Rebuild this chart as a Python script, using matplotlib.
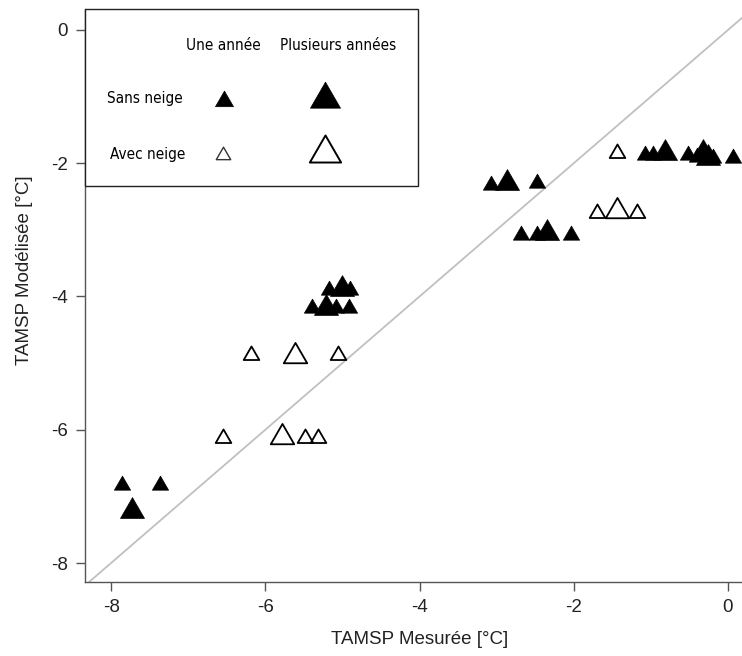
import numpy as np
import matplotlib
matplotlib.use("Agg")
import matplotlib.pyplot as plt
from matplotlib.path import Path
from matplotlib.patches import Rectangle
from matplotlib.lines import Line2D

plt.rcParams['font.family'] = ['Liberation Sans', 'DejaVu Sans']
plt.rcParams['axes.unicode_minus'] = False

# sans neige, une année (petits triangles pleins)
sans_une_x = [-7.86, -7.36, -5.18, -4.90, -5.39, -5.08, -4.91, -3.07, -2.48,
              -2.68, -2.47, -2.03, -1.08, -0.97, -0.52, -0.40, -0.19, 0.06]
sans_une_y = [-6.83, -6.83, -3.90, -3.90, -4.17, -4.17, -4.17, -2.33, -2.30,
              -3.07, -3.07, -3.07, -1.88, -1.88, -1.88, -1.90, -1.92, -1.92]
# sans neige, plusieurs années (grands triangles pleins)
sans_plus_x = [-7.73, -5.01, -5.21, -2.86, -2.35, -0.82, -0.32, -0.26]
sans_plus_y = [-7.22, -3.88, -4.17, -2.30, -3.05, -1.85, -1.85, -1.92]
# avec neige, une année (petits triangles vides)
avec_une_x = [-6.18, -5.06, -6.55, -5.48, -5.32, -1.44, -1.70, -1.18]
avec_une_y = [-4.88, -4.88, -6.13, -6.13, -6.13, -1.85, -2.75, -2.75]
# avec neige, plusieurs années (grands triangles vides)
avec_plus_x = [-5.62, -5.78, -1.44]
avec_plus_y = [-4.90, -6.11, -2.72]

W, H = 742, 656
fig = plt.figure(figsize=(W / 100, H / 100), dpi=100)

def fx(px):
    return px / W

def fy(py):
    return 1 - py / H

# equilateral triangle like R's pch 2 / 17
tri = Path([(-1, -0.577), (1, -0.577), (0, 1.155), (-1, -0.577)],
           [Path.MOVETO, Path.LINETO, Path.LINETO, Path.CLOSEPOLY])

ax = fig.add_axes([fx(85), fy(582), fx(742) - fx(85), fy(9) - fy(582)])
ax.set_xlim(-8.338, 0.182)
ax.set_ylim(-8.285, 0.315)

ax.plot([-9, 1], [-9, 1], color='#c0c0c0', lw=1.3, zorder=1)

ax.plot(sans_une_x, sans_une_y, ls='none', marker=tri, ms=13.5,
        mfc='black', mec='black', mew=0.5, zorder=3)
ax.plot(sans_plus_x, sans_plus_y, ls='none', marker=tri, ms=20,
        mfc='black', mec='black', mew=0.5, zorder=3)
ax.plot(avec_une_x, avec_une_y, ls='none', marker=tri, ms=13,
        mfc='none', mec='black', mew=1.3, zorder=3)
ax.plot(avec_plus_x, avec_plus_y, ls='none', marker=tri, ms=19.5,
        mfc='none', mec='black', mew=1.3, zorder=3)

for s in ['top', 'right']:
    ax.spines[s].set_visible(False)
for s in ['left', 'bottom']:
    ax.spines[s].set_color('#555555')
    ax.spines[s].set_linewidth(1.0)

ax.set_xticks([-8, -6, -4, -2, 0])
ax.set_yticks([-8, -6, -4, -2, 0])
ax.tick_params(length=6.5, width=1.0, color='#555555', labelsize=13.5,
               labelcolor='#222222', pad=6)

ax.set_xlabel("TAMSP Mesurée [°C]", fontsize=13.5, color='#222222')
ax.set_ylabel("TAMSP Modélisée [°C]", fontsize=13.5, color='#222222')
ax.xaxis.set_label_coords((420 - 85) / 657, (582 - 640) / 573)
ax.yaxis.set_label_coords((25 - 85) / 657, (582 - 270) / 573)
ax.xaxis.label.set_va('center')
ax.yaxis.label.set_va('center')

# legend box
fig.add_artist(Rectangle((fx(85), fy(186)), fx(418) - fx(85), fy(9) - fy(186),
                         transform=fig.transFigure, facecolor='white',
                         edgecolor='#222222', lw=1.0, zorder=5))

leg = dict(ha='center', va='center', fontsize=11, family=['DejaVu Sans'],
           stretch='condensed', zorder=6)
fig.text(fx(223), fy(45), "Une année", **leg)
fig.text(fx(338), fy(45), "Plusieurs années", **leg)
fig.text(fx(145), fy(99), "Sans neige", **leg)
fig.text(fx(148), fy(155), "Avec neige", **leg)

fig.add_artist(Line2D([fx(224)], [fy(101)], transform=fig.transFigure, ls='none',
                      marker=tri, ms=15, mfc='black', mec='black', mew=0.5, zorder=6))
fig.add_artist(Line2D([fx(325)], [fy(99)], transform=fig.transFigure, ls='none',
                      marker=tri, ms=25, mfc='black', mec='black', mew=0.5, zorder=6))
fig.add_artist(Line2D([fx(223)], [fy(155)], transform=fig.transFigure, ls='none',
                      marker=tri, ms=12, mfc='none', mec='#333333', mew=1.0, zorder=6))
fig.add_artist(Line2D([fx(325)], [fy(153)], transform=fig.transFigure, ls='none',
                      marker=tri, ms=26, mfc='none', mec='black', mew=1.4, zorder=6))

fig.savefig("out.png", dpi=100)
